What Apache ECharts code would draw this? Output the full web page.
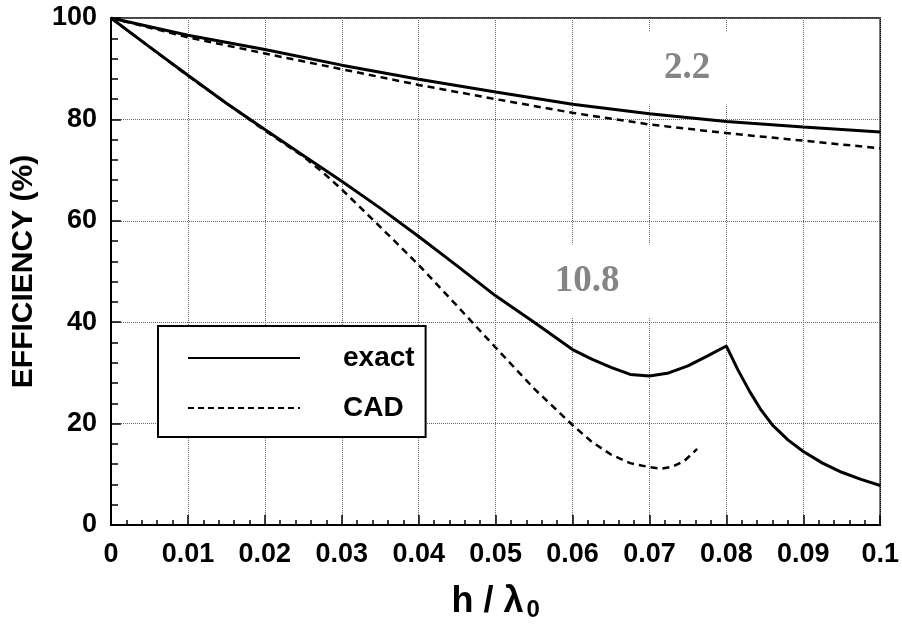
<!DOCTYPE html>
<html>
<head>
<meta charset="utf-8">
<script src="https://cdn.jsdelivr.net/npm/echarts@6/dist/echarts.min.js"></script>
<style>
  html, body { margin: 0; padding: 0; background: #fff; }
  #chart { width: 902px; height: 627px; }
</style>
</head>
<body>
<div id="chart"></div>
<script>
// h / lambda0 positions and efficiencies (%)
var hHigh = [0, 0.01, 0.02, 0.03, 0.04, 0.05, 0.06, 0.07, 0.08, 0.09, 0.1];
var exactHigh = [100, 96.6, 93.8, 90.7, 87.9, 85.4, 83.0, 81.1, 79.6, 78.5, 77.5];
var cadHigh = [100, 96.2, 93.0, 89.9, 86.8, 84.0, 81.3, 79.0, 77.3, 75.8, 74.3];

var hExactLow = [0, 0.005, 0.01, 0.015, 0.02, 0.025, 0.03, 0.035, 0.04, 0.045, 0.05, 0.055, 0.06,
  0.0625, 0.065, 0.0675, 0.07, 0.0725, 0.075, 0.0775, 0.08, 0.0815, 0.083, 0.0845, 0.086, 0.088,
  0.09, 0.0925, 0.095, 0.0975, 0.1];
var exactLow = [100, 94.3, 88.7, 83.2, 78.0, 72.9, 67.8, 62.5, 56.9, 51.1, 45.2, 40.0, 34.6,
  32.7, 31.1, 29.7, 29.4, 30.0, 31.4, 33.3, 35.3, 30.6, 26.4, 22.7, 19.7, 16.8,
  14.5, 12.2, 10.4, 9.0, 7.8];

var hCadLow = [0, 0.01, 0.02, 0.025, 0.0275, 0.03, 0.035, 0.04, 0.045, 0.05, 0.055, 0.06, 0.0625, 0.065,
  0.0675, 0.07, 0.0715, 0.073, 0.0745, 0.0762];
var cadLow = [100, 88.6, 77.8, 72.7, 69.6, 66.2, 58.8, 51.3, 43.2, 35.0, 26.9, 19.7, 16.4, 13.9,
  12.2, 11.4, 11.1, 11.5, 12.6, 15.0];

var xTickLabels = ['0', '0.01', '0.02', '0.03', '0.04', '0.05', '0.06', '0.07', '0.08', '0.09', '0.1'];
var yTickLabels = ['0', '20', '40', '60', '80', '100'];

var FONT = '"Liberation Sans", Arial, sans-serif';

function zip(xs, ys) {
  return xs.map(function (x, i) { return [x, ys[i]]; });
}

var chart = echarts.init(document.getElementById('chart'));

var solid = { color: '#000', width: 3 };
var dashed = { color: '#000', width: 2.5, type: [7, 5] };

var option = {
  animation: false,
  backgroundColor: '#fff',
  color: ['#000', '#000'],
  grid: {
    left: 111, right: 21, top: 18, bottom: 96,
    show: true, borderColor: '#000', borderWidth: 1.5
  },
  legend: {
    orient: 'vertical',
    left: 158, top: 326,
    padding: [18, 11, 15, 29],
    itemWidth: 112, itemHeight: 28, itemGap: 22,
    borderColor: '#000', borderWidth: 2,
    backgroundColor: '#fff',
    itemStyle: { opacity: 0 },
    textStyle: { fontFamily: FONT, fontWeight: 'bold', fontSize: 28, color: '#000', lineHeight: 28, padding: [0, 0, 0, 38] },
    data: [
      { name: 'exact', lineStyle: { width: 2, opacity: 1 } },
      { name: 'CAD', lineStyle: { width: 2, type: [6, 4], opacity: 1 } }
    ]
  },
  xAxis: {
    type: 'value', min: 0, max: 0.1, interval: 0.01,
    name: '{a|h / λ}{s|0}',
    nameLocation: 'middle', nameGap: 57,
    nameTextStyle: {
      rich: {
        a: { fontFamily: FONT, fontWeight: 'bold', fontSize: 36, color: '#000' },
        s: { fontFamily: FONT, fontWeight: 'bold', fontSize: 24, color: '#000', padding: [16, 0, 0, 3] }
      }
    },
    axisLine: { lineStyle: { color: '#000', width: 2 } },
    axisTick: { inside: true, length: 10, lineStyle: { color: '#000', width: 1.5 } },
    minorTick: { show: true, splitNumber: 5, length: 5, lineStyle: { color: '#000', width: 1.5 } },
    axisLabel: {
      margin: 16, fontFamily: FONT, fontWeight: 'bold', fontSize: 27, color: '#000',
      formatter: function (v, i) { return xTickLabels[i]; }
    },
    splitLine: { show: true, lineStyle: { color: '#666', width: 1, type: 'dotted' } }
  },
  yAxis: {
    type: 'value', min: 0, max: 100, interval: 20,
    name: 'EFFICIENCY (%)',
    nameLocation: 'middle', nameGap: 72, nameRotate: 90,
    nameTextStyle: { fontFamily: FONT, fontWeight: 'bold', fontSize: 30, color: '#000' },
    axisLine: { lineStyle: { color: '#000', width: 2 } },
    axisTick: { inside: true, length: 10, lineStyle: { color: '#000', width: 1.5 } },
    minorTick: { show: true, splitNumber: 5, length: 7, lineStyle: { color: '#000', width: 1.5 } },
    axisLabel: {
      margin: 14, fontFamily: FONT, fontWeight: 'bold', fontSize: 27, color: '#000',
      formatter: function (v, i) { return yTickLabels[i]; }
    },
    splitLine: { show: true, lineStyle: { color: '#666', width: 1, type: 'dotted' } }
  },
  graphic: [
    {
      type: 'text', x: 687, y: 68, z: 1,
      style: {
        text: '2.2', fill: '#858585', font: 'bold 37px "Liberation Serif", "Times New Roman", serif',
        align: 'center', verticalAlign: 'middle', backgroundColor: '#fff', padding: [18, 42]
      }
    },
    {
      type: 'text', x: 587, y: 281, z: 1,
      style: {
        text: '10.8', fill: '#858585', font: 'bold 37px "Liberation Serif", "Times New Roman", serif',
        align: 'center', verticalAlign: 'middle', backgroundColor: '#fff', padding: [18, 40]
      }
    }
  ],
  series: [
    { name: 'exact', type: 'line', symbol: 'none', z: 3, lineStyle: solid, data: zip(hHigh, exactHigh) },
    { name: 'CAD', type: 'line', symbol: 'none', z: 3, lineStyle: dashed, data: zip(hHigh, cadHigh) },
    { name: 'exact', type: 'line', symbol: 'none', z: 3, lineStyle: solid, data: zip(hExactLow, exactLow) },
    { name: 'CAD', type: 'line', symbol: 'none', z: 3, lineStyle: dashed, data: zip(hCadLow, cadLow) }
  ]
};

chart.setOption(option);
</script>
</body>
</html>
